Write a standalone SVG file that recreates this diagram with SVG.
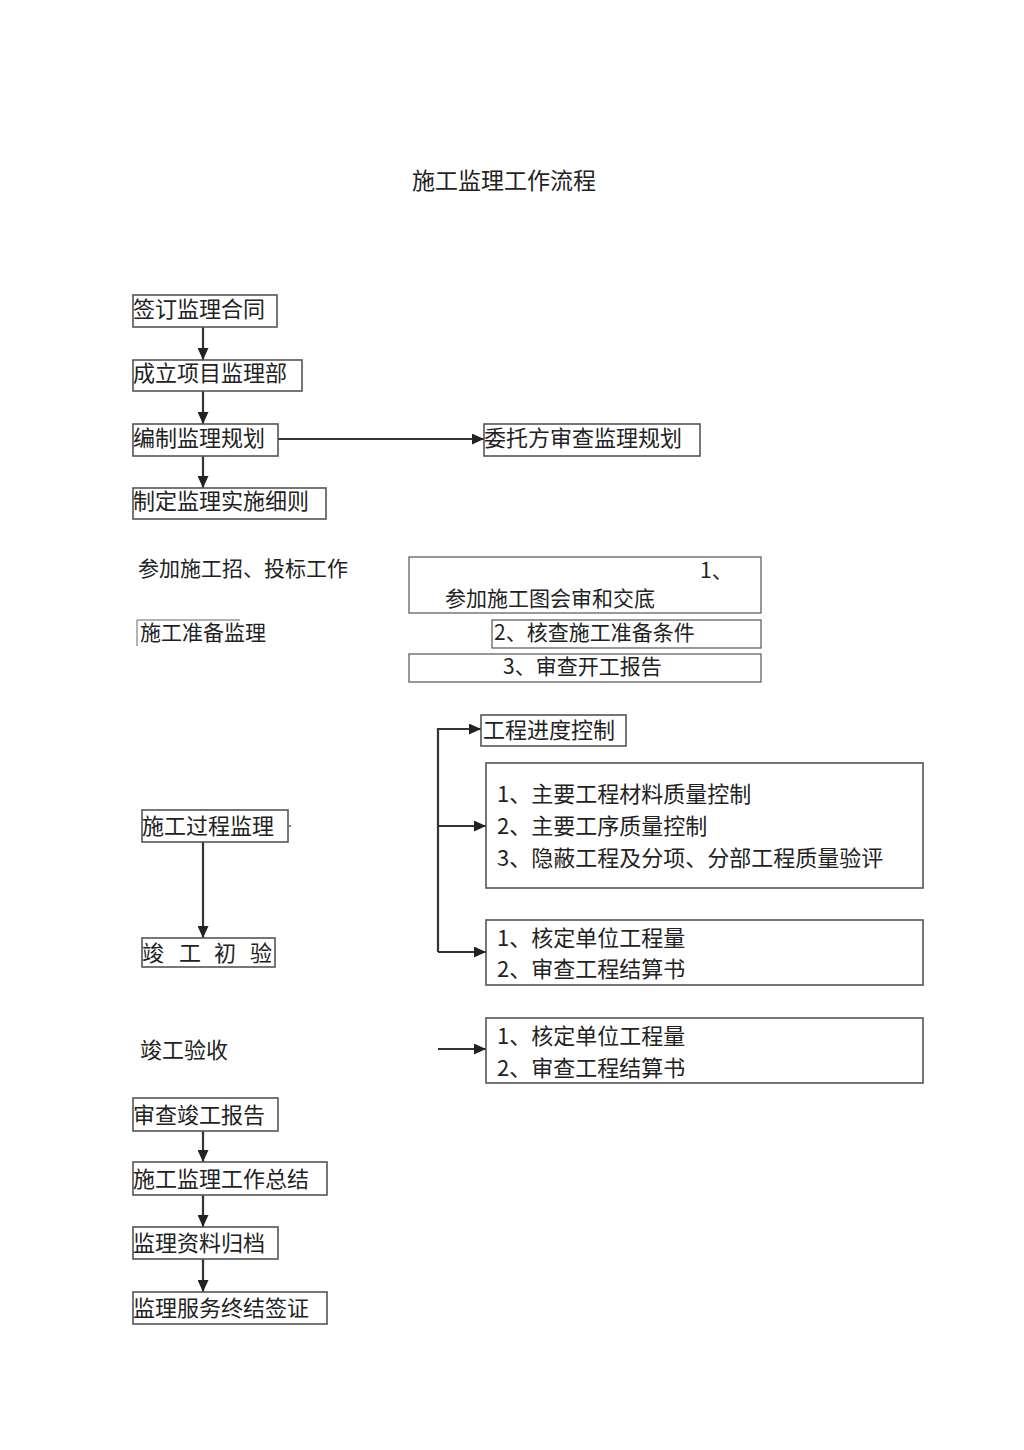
<svg xmlns="http://www.w3.org/2000/svg" width="1024" height="1450" viewBox="0 0 1024 1450">
<defs>
<marker id="ah" markerUnits="userSpaceOnUse" markerWidth="13" markerHeight="11" refX="12" refY="5.5" orient="auto">
<path d="M0,0 L12,5.5 L0,11 Z" fill="#222"/>
</marker>
<style>
.t{font-family:"Noto Sans CJK SC","Liberation Sans",sans-serif;font-size:22px;fill:#222}
.b{fill:#fff;stroke:#555;stroke-width:1.6}
.c{fill:none;stroke:#333;stroke-width:2.2}
</style>
</defs>
<rect width="1024" height="1450" fill="#fff"/>
<text class="t" x="504" y="189" text-anchor="middle" style="font-size:23px">施工监理工作流程</text>

<g id="connectors">
<line class="c" x1="203" y1="327" x2="203" y2="360" marker-end="url(#ah)"/>
<line class="c" x1="203" y1="391" x2="203" y2="424" marker-end="url(#ah)"/>
<line class="c" x1="203" y1="456" x2="203" y2="488" marker-end="url(#ah)"/>
<line class="c" x1="278" y1="439" x2="484" y2="439" marker-end="url(#ah)"/>
<polyline class="c" points="438,952 438,729 481,729" marker-end="url(#ah)"/>
<line class="c" x1="438" y1="952" x2="486" y2="952" marker-end="url(#ah)"/>
<line class="c" x1="438" y1="826" x2="486" y2="826" marker-end="url(#ah)"/>
<line class="c" x1="203" y1="842" x2="203" y2="938" marker-end="url(#ah)"/>
<line class="c" x1="438" y1="1049" x2="486" y2="1049" marker-end="url(#ah)"/>
<line class="c" x1="203" y1="1131" x2="203" y2="1162" marker-end="url(#ah)"/>
<line class="c" x1="203" y1="1195" x2="203" y2="1227" marker-end="url(#ah)"/>
<line class="c" x1="203" y1="1259" x2="203" y2="1292" marker-end="url(#ah)"/>
</g>

<g id="n1"><rect class="b" x="133" y="295" width="144" height="32"/><text class="t" x="133" y="317">签订监理合同</text></g>
<g id="n2"><rect class="b" x="133" y="360" width="169" height="31"/><text class="t" x="133" y="381">成立项目监理部</text></g>
<g id="n3"><rect class="b" x="133" y="424" width="145" height="32"/><text class="t" x="133" y="446">编制监理规划</text></g>
<g id="n4"><rect class="b" x="484" y="424" width="216" height="32"/><text class="t" x="484" y="446">委托方审查监理规划</text></g>
<g id="n5"><rect class="b" x="133" y="488" width="193" height="31"/><text class="t" x="133" y="509">制定监理实施细则</text></g>

<g id="n6"><text class="t" x="138" y="576" style="font-size:21px">参加施工招、投标工作</text></g>
<g id="n7"><rect class="b" x="409" y="557" width="352" height="56" style="stroke-width:1.2"/><text class="t" x="700" y="578" style="font-size:21px">1、</text><text class="t" x="445" y="606" style="font-size:21px">参加施工图会审和交底</text></g>
<g id="n8"><polyline points="137,646 137,620 240,620" fill="none" stroke="#666" stroke-width="1"/><text class="t" x="140" y="640" style="font-size:21px">施工准备监理</text></g>
<g id="n9"><rect class="b" x="492" y="620" width="269" height="28" style="stroke-width:1.2"/><text class="t" x="494" y="640" style="font-size:21px">2、核查施工准备条件</text></g>
<g id="n10"><rect class="b" x="409" y="654" width="352" height="28" style="stroke-width:1.2"/><text class="t" x="503" y="674" style="font-size:21px">3、审查开工报告</text></g>

<g id="n11"><rect class="b" x="481" y="715" width="145" height="31"/><text class="t" x="483" y="738">工程进度控制</text></g>
<g id="n12"><rect class="b" x="486" y="763" width="437" height="125"/>
<text class="t" x="497" y="802">1、主要工程材料质量控制</text>
<text class="t" x="497" y="834">2、主要工序质量控制</text>
<text class="t" x="497" y="866">3、隐蔽工程及分项、分部工程质量验评</text></g>
<g id="n13"><rect class="b" x="486" y="920" width="437" height="65"/>
<text class="t" x="497" y="946">1、核定单位工程量</text>
<text class="t" x="497" y="977">2、审查工程结算书</text></g>

<g id="n14"><rect class="b" x="142" y="810" width="146" height="32"/><text class="t" x="142" y="834">施工过程监理</text><circle cx="290" cy="826" r="1" fill="#555"/></g>
<g id="n15"><rect class="b" x="142" y="938" width="133" height="29"/><text class="t" x="142 179 214 250" y="961">竣工初验</text></g>

<g id="n16"><text class="t" x="140" y="1058">竣工验收</text></g>
<g id="n17"><rect class="b" x="486" y="1018" width="437" height="65"/>
<text class="t" x="497" y="1044">1、核定单位工程量</text>
<text class="t" x="497" y="1076">2、审查工程结算书</text></g>

<g id="n18"><rect class="b" x="133" y="1098" width="145" height="33"/><text class="t" x="133" y="1123">审查竣工报告</text></g>
<g id="n19"><rect class="b" x="133" y="1162" width="194" height="33"/><text class="t" x="133" y="1187">施工监理工作总结</text></g>
<g id="n20"><rect class="b" x="133" y="1227" width="145" height="32"/><text class="t" x="133" y="1251">监理资料归档</text></g>
<g id="n21"><rect class="b" x="133" y="1292" width="194" height="32"/><text class="t" x="133" y="1316">监理服务终结签证</text></g>
</svg>
